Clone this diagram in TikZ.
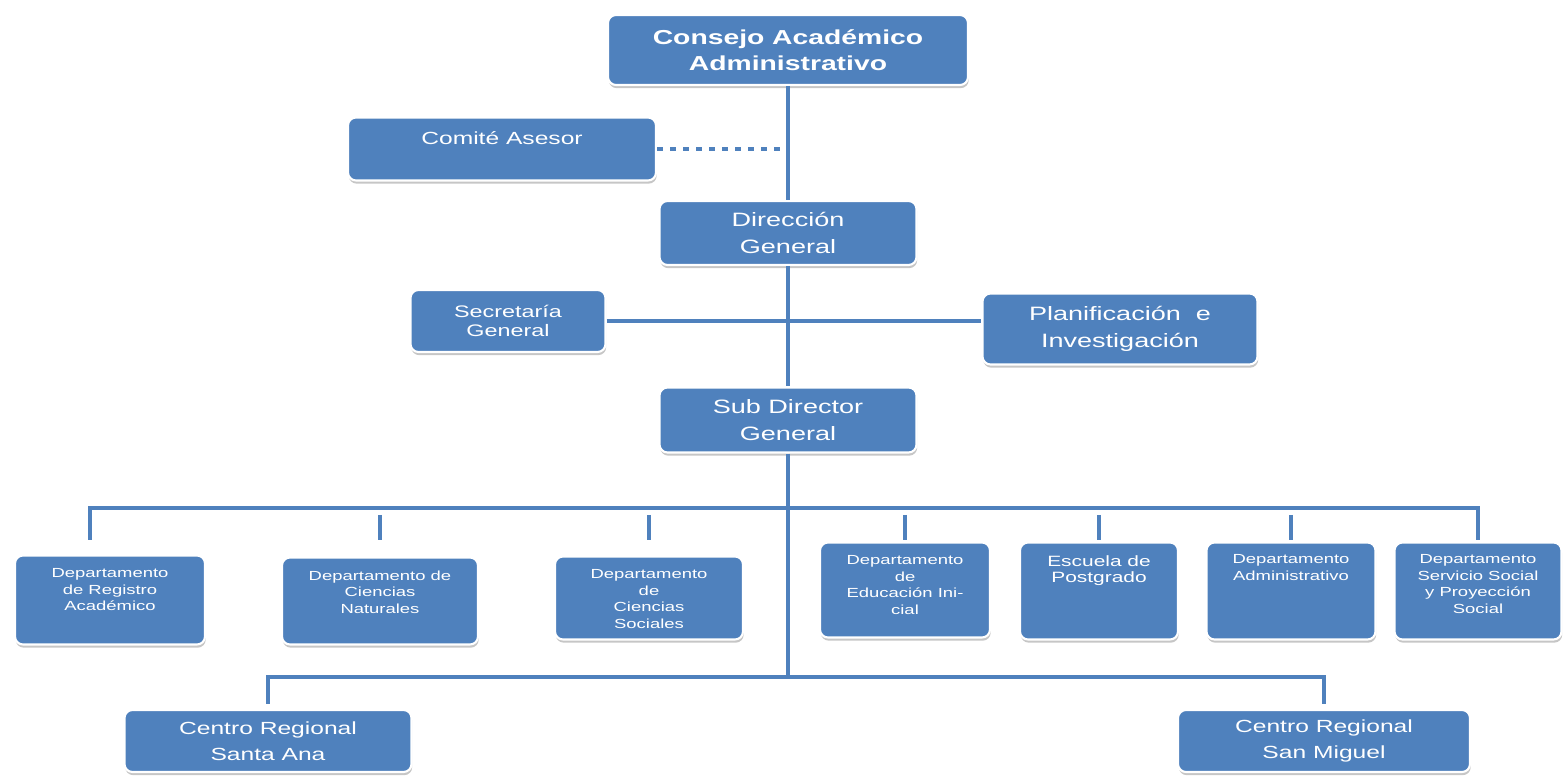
\documentclass[tikz,border=0pt]{standalone}
\usepackage{fontspec}
\setmainfont{Liberation Sans}[FakeStretch=1.4]
\usetikzlibrary{positioning, shadows}
\definecolor{orgblue}{RGB}{79,129,189}
\newcommand{\fs}[2]{\fontsize{#1}{#2}\selectfont}
\tikzset{
    unit/.style={draw=white, line width=1.2pt, fill=orgblue, rounded corners=1.6mm,
        drop shadow={shadow xshift=0.4pt, shadow yshift=-1.8pt, opacity=0.45},
        text=white, align=center, inner sep=0pt},
    boxtext/.style={text=white, align=center, inner sep=0pt},
    link/.style={draw=orgblue, line width=0.8mm},
    advisory/.style={draw=orgblue, line width=0.8mm, dash pattern=on 1.1mm off 1.5mm},
}

\begin{document}
\begin{tikzpicture}[x=0.2mm, y=-0.2mm]
    \useasboundingbox (0,0) rectangle (1564,781);

    \node[unit, minimum width=72mm, minimum height=14mm, font=\bfseries\fs{11.5}{15}] (consejo) at (788,50) {Consejo Académico\\Administrativo};
    \node[unit, minimum width=61.6mm, minimum height=12.6mm] (comite) at (502,149) {};
    \node[boxtext, font=\fs{10}{12}, below=2.9mm of comite.north] (comite_t) {Comité Asesor};
    \node[unit, minimum width=51.4mm, minimum height=12.8mm, font=\fs{11}{15}] (direccion) at (788,233) {Dirección\\General};
    \node[unit, minimum width=39mm, minimum height=12.4mm, font=\fs{9.5}{11.3}] (secretaria) at (508,321) {Secretaría\\General};
    \node[unit, minimum width=55mm, minimum height=14.2mm, font=\fs{11}{15}] (planif) at (1120,329) {Planificación\ \ e\\Investigación};
    \node[unit, minimum width=51.4mm, minimum height=13mm, font=\fs{11}{15}] (subdir) at (788,420) {Sub Director\\General};

    % departamentos
    \node[unit, minimum width=38mm, minimum height=17.8mm] (reg) at (110,600) {};
    \node[unit, minimum width=39.2mm, minimum height=17.4mm] (nat) at (380,601) {};
    \node[unit, minimum width=37.6mm, minimum height=16.6mm] (soc) at (649,598) {};
    \node[unit, minimum width=34mm, minimum height=19mm] (edu) at (905,590) {};
    \node[unit, minimum width=31.6mm, minimum height=19.4mm] (esc) at (1099,591) {};
    \node[unit, minimum width=33.8mm, minimum height=19.4mm] (adm) at (1291,591) {};
    \node[unit, minimum width=33.4mm, minimum height=19.4mm] (ser) at (1478,591) {};
    \node[boxtext, font=\fs{7.5}{9.4}, below=2.8mm of reg.north] (reg_t) {Departamento\\de Registro\\Académico};
    \node[boxtext, font=\fs{7.5}{9.4}, below=2.8mm of nat.north] (nat_t) {Departamento de\\Ciencias\\Naturales};
    \node[boxtext, font=\fs{7.5}{9.4}, below=2.8mm of soc.north] (soc_t) {Departamento\\de\\Ciencias\\Sociales};
    \node[boxtext, font=\fs{7.5}{9.4}, below=2.8mm of edu.north] (edu_t) {Departamento\\de\\Educación Ini-\\cial};
    \node[boxtext, font=\fs{8.5}{9.4}, below=2.7mm of esc.north] (esc_t) {Escuela de\\Postgrado};
    \node[boxtext, font=\fs{7.5}{9.4}, below=2.6mm of adm.north] (adm_t) {Departamento\\Administrativo};
    \node[boxtext, font=\fs{7.5}{9.4}, below=2.6mm of ser.north] (ser_t) {Departamento\\Servicio Social\\y Proyección\\Social};

    \node[unit, minimum width=57.4mm, minimum height=12.4mm, font=\fs{10}{15}] (santa) at (268,741) {Centro Regional\\Santa Ana};
    \node[unit, minimum width=58.4mm, minimum height=12.4mm, font=\fs{10}{15}] (sanmig) at (1324,741) {Centro Regional\\San Miguel};

    \coordinate (deptbus) at (788,508);
    \coordinate (deptstub) at (788,540);
    \coordinate (centrobus) at (788,677);

    \draw[link] (consejo.south) -- (direccion.north);
    \draw[advisory] (comite.east) -- (comite.east -| consejo.south);
    \draw[link] (direccion.south) -- (subdir.north);
    \draw[link] (secretaria.east) -- (secretaria.east -| planif.west);
    \draw[link] (subdir.south) -- (centrobus);
    \draw[link] ([xshift=-4mm]reg.north |- deptstub) -- ([xshift=-4mm]reg.north |- deptbus)
        -- (ser.north |- deptbus) -- (ser.north |- deptstub);
    \foreach \d in {nat, soc, edu, esc, adm}
        \draw[link, shorten <=1.4mm] (\d.north |- deptbus) -- (\d.north |- deptstub);
    \draw[link, shorten <=1mm, shorten >=1mm] (santa.north) -- (santa.north |- centrobus)
        -- (sanmig.north |- centrobus) -- (sanmig.north);
\end{tikzpicture}
\end{document}
